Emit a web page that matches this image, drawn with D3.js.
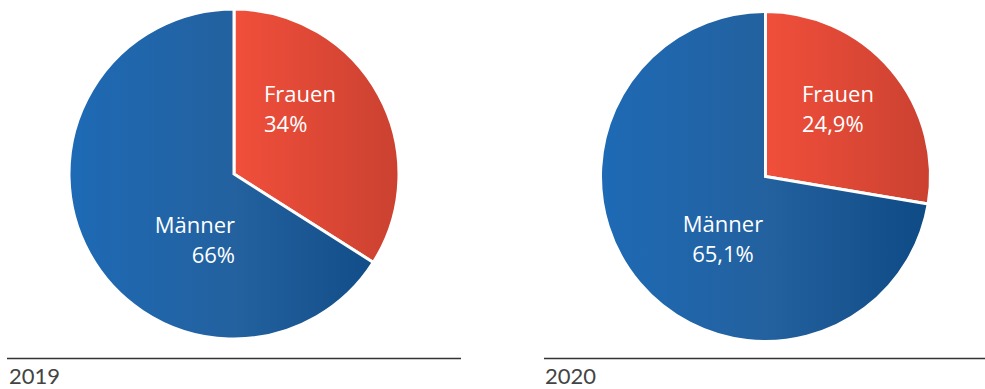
<!DOCTYPE html>
<html>
<head>
<meta charset="utf-8">
<script src="https://cdn.jsdelivr.net/npm/d3@7"></script>
<style>
  html, body { margin: 0; padding: 0; background: #ffffff; }
  svg { display: block; }
  text { font-family: "Open Sans", "DejaVu Sans", sans-serif; }
  text.year { font-family: Lato, "Open Sans", sans-serif; }
</style>
</head>
<body>
<svg id="chart" width="985" height="389"></svg>
<script>
// Gender split per year (percent)
const years = ["2019", "2020"];
const categories = ["Frauen", "Männer"];
const values2019 = [34, 66];
const values2020 = [24.9, 65.1];
const valueLabels2019 = ["34%", "66%"];
const valueLabels2020 = ["24,9%", "65,1%"];

const panels = [
  { year: years[0], values: values2019, labels: valueLabels2019 },
  { year: years[1], values: values2020, labels: valueLabels2020 }
];

// Layout of each panel
const layout = [
  { cx: 234, cy: 174, r: 165, lineX0: 7, lineX1: 461, yearX: 9,
    place: [ { dx: 30, dy: -72, anchor: "start" }, { dx: 1, dy: 59, anchor: "end" } ] },
  { cx: 765.5, cy: 176.5, r: 165, lineX0: 544, lineX1: 985, yearX: 545,
    place: [ { dx: 36.5, dy: -74.5, anchor: "start" }, { dx: -42.5, dy: 55.5, anchor: "middle" } ] }
];

const svg = d3.select("#chart");
const defs = svg.append("defs");

const pie = d3.pie().sort(null).value(d => d);
const lineY = 358.5;
const yearBaseline = 384;

panels.forEach((p, i) => {
  const L = layout[i];
  const arc = d3.arc().innerRadius(0).outerRadius(L.r);

  // Horizontal gradients in the pie's local coordinates:
  // blue spans the whole disc, red spans the right half
  const gBlue = defs.append("linearGradient")
    .attr("id", "blue" + i).attr("gradientUnits", "userSpaceOnUse")
    .attr("x1", -L.r).attr("x2", L.r).attr("y1", 0).attr("y2", 0);
  gBlue.append("stop").attr("offset", "0%").attr("stop-color", "#1e6ab5");
  gBlue.append("stop").attr("offset", "50%").attr("stop-color", "#23619f");
  gBlue.append("stop").attr("offset", "100%").attr("stop-color", "#0e4a84");

  const gRed = defs.append("linearGradient")
    .attr("id", "red" + i).attr("gradientUnits", "userSpaceOnUse")
    .attr("x1", 0).attr("x2", L.r).attr("y1", 0).attr("y2", 0);
  gRed.append("stop").attr("offset", "0%").attr("stop-color", "#f04f3b");
  gRed.append("stop").attr("offset", "100%").attr("stop-color", "#cb4130");

  const fills = ["url(#red" + i + ")", "url(#blue" + i + ")"];

  const g = svg.append("g").attr("transform", `translate(${L.cx},${L.cy})`);
  const arcs = pie(p.values);

  g.selectAll("path.slice")
    .data(arcs)
    .join("path")
    .attr("class", "slice")
    .attr("d", arc)
    .attr("fill", (d, j) => fills[j])
    .attr("stroke", "#ffffff")
    .attr("stroke-width", 3)
    .attr("stroke-linejoin", "miter");

  // Slice labels: category name and share
  arcs.forEach((d, j) => {
    const pl = L.place[j];
    const t = g.append("text")
      .attr("x", pl.dx).attr("y", pl.dy)
      .attr("text-anchor", pl.anchor)
      .attr("fill", "#ffffff")
      .attr("font-size", 22)
      .attr("font-weight", 500);
    t.append("tspan").attr("x", pl.dx).attr("dy", 0).text(categories[j]);
    t.append("tspan").attr("x", pl.dx).attr("dy", 29.5).text(p.labels[j]);
  });

  // Baseline rule and year caption
  svg.append("line")
    .attr("x1", L.lineX0).attr("x2", L.lineX1)
    .attr("y1", lineY).attr("y2", lineY)
    .attr("stroke", "#333333").attr("stroke-width", 1.6);

  svg.append("text")
    .attr("class", "year")
    .attr("x", L.yearX).attr("y", yearBaseline)
    .attr("fill", "#444444")
    .attr("font-size", 22)
    .text(p.year);
});
</script>
</body>
</html>
